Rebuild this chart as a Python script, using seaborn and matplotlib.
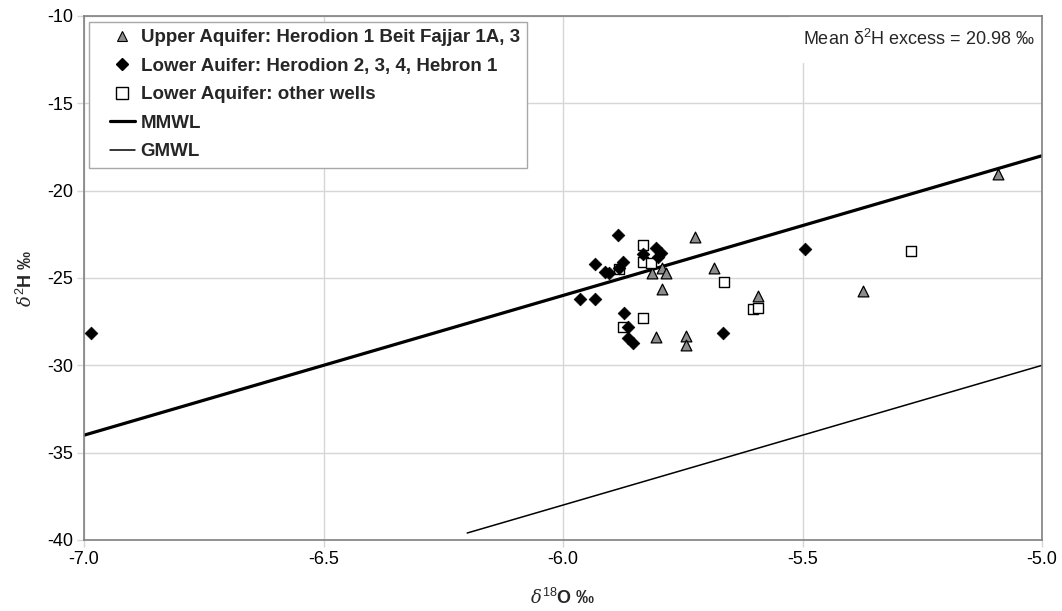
import matplotlib
matplotlib.use("Agg")
import matplotlib.pyplot as plt
from matplotlib.lines import Line2D
from matplotlib.legend_handler import HandlerLine2D
import numpy as np
import pandas as pd
import seaborn as sns

# Upper aquifer wells (Herodion 1, Beit Fajjar 1A, 3)
upper_o18 = [-5.724, -5.685, -5.794, -5.815, -5.784, -5.793, -5.593, -5.805,
             -5.744, -5.744, -5.092, -5.373]
upper_h2 = [-22.63, -24.44, -24.44, -24.73, -24.73, -25.63, -26.03, -28.39,
            -28.30, -28.83, -19.04, -25.72]

# Lower aquifer wells (Herodion 2, 3, 4, Hebron 1)
lower_o18 = [-6.986, -5.885, -5.934, -5.913, -5.904, -5.875, -5.883, -5.833,
             -5.805, -5.795, -5.802, -5.964, -5.934, -5.873, -5.864, -5.864,
             -5.854, -5.665, -5.494]
lower_h2 = [-28.13, -22.54, -24.21, -24.63, -24.73, -24.06, -24.44, -23.64,
            -23.30, -23.58, -23.81, -26.22, -26.22, -27.02, -27.82, -28.45,
            -28.70, -28.13, -23.34]

# Lower aquifer, other wells
other_o18 = [-5.833, -5.833, -5.816, -5.883, -5.664, -5.604, -5.593, -5.833,
             -5.875, -5.273]
other_h2 = [-23.11, -24.06, -24.16, -24.50, -25.21, -26.79, -26.73, -27.30,
            -27.78, -23.43]

# Meteoric water lines: d2H = slope * d18O + excess
mmwl_slope, mmwl_excess, mmwl_range = 8.0, 22.0, [-7.0, -5.0]
gmwl_slope, gmwl_excess, gmwl_range = 8.0, 10.0, [-6.2, -5.0]

labels = ["Upper Aquifer: Herodion 1 Beit Fajjar 1A, 3",
          "Lower Auifer: Herodion 2, 3, 4, Hebron 1",
          "Lower Aquifer: other wells",
          "MMWL",
          "GMWL"]
mean_excess_text = "Mean \u03b4$^2$H excess = 20.98 \u2030"

x_ticks = [-7.0, -6.5, -6.0, -5.5, -5.0]
y_ticks = [-40, -35, -30, -25, -20, -15, -10]

sns.set_theme(style="white")
plt.rcParams["font.family"] = ["Liberation Sans", "DejaVu Sans"]
plt.rcParams["mathtext.fontset"] = "custom"
plt.rcParams["mathtext.rm"] = "Liberation Sans"
plt.rcParams["mathtext.it"] = "DejaVu Serif:italic"

fig = plt.figure(figsize=(10.62, 6.11), dpi=100)
ax = fig.add_axes([84 / 1062, 1 - 540 / 611, (1042 - 84) / 1062, (540 - 16) / 611])

grid_c = "#d6d6d6"
spine_c = "#808080"

mm = pd.DataFrame({"x": mmwl_range})
mm["y"] = mmwl_slope * mm["x"] + mmwl_excess
gm = pd.DataFrame({"x": gmwl_range})
gm["y"] = gmwl_slope * gm["x"] + gmwl_excess

sns.lineplot(data=mm, x="x", y="y", ax=ax, color="black", lw=2.3, zorder=3)
sns.lineplot(data=gm, x="x", y="y", ax=ax, color="black", lw=1.1, zorder=3)

up = pd.DataFrame({"x": upper_o18, "y": upper_h2})
lo = pd.DataFrame({"x": lower_o18, "y": lower_h2})
ot = pd.DataFrame({"x": other_o18, "y": other_h2})

sns.scatterplot(data=up, x="x", y="y", ax=ax, marker="^", s=60,
                color="#8c8c8c", edgecolor="black", linewidth=0.9, zorder=4)
sns.scatterplot(data=ot, x="x", y="y", ax=ax, marker="s", s=62,
                color="white", edgecolor="black", linewidth=1.0, zorder=5)
sns.scatterplot(data=lo, x="x", y="y", ax=ax, marker="D", s=42,
                color="black", edgecolor="black", linewidth=0.5, zorder=6)

ax.set_xlim(-7.0, -5.0)
ax.set_ylim(-40, -10)
ax.set_xticks(x_ticks)
ax.set_xticklabels([f"{v:.1f}" for v in x_ticks])
ax.set_yticks(y_ticks)
ax.set_yticklabels([str(v) for v in y_ticks])
ax.grid(True, color=grid_c, lw=1.0)
ax.set_axisbelow(True)
for sp in ax.spines.values():
    sp.set_color(spine_c)
    sp.set_linewidth(1.2)
    sp.set_zorder(12)
ax.tick_params(axis="both", labelsize=13, colors=grid_c, labelcolor="black",
               length=5, width=1, direction="out", pad=3,
               bottom=True, left=True)

ax.set_xlabel("$\\mathit{\\delta}^{18}$O \u2030", fontsize=13, fontweight="bold",
              labelpad=14)
ax.set_ylabel("$\\mathit{\\delta}^{2}$H \u2030", fontsize=13, fontweight="bold",
              labelpad=8)

handles = [
    Line2D([], [], ls="none", marker="^", ms=7, mfc="#8c8c8c", mec="black", mew=0.8),
    Line2D([], [], ls="none", marker="D", ms=6, mfc="black", mec="black"),
    Line2D([], [], ls="none", marker="s", ms=8, mfc="white", mec="black", mew=1.0),
    Line2D([], [], color="black", lw=2.3),
    Line2D([], [], color="black", lw=1.1),
]
leg = ax.legend(handles, labels, loc="upper left", bbox_to_anchor=(0.003, 0.993),
                frameon=True, fancybox=False, framealpha=1, edgecolor="#a8a8a8",
                borderpad=0.4, labelspacing=0.61, handlelength=2.05,
                handletextpad=0.32, prop={"weight": "bold", "size": 13.5},
                borderaxespad=0.1,
                handler_map={Line2D: HandlerLine2D(xpad=0.72)})
leg.get_frame().set_linewidth(1.0)
leg.set_zorder(10)

ax.text(0.993, 1 - 23 / 524, mean_excess_text, transform=ax.transAxes,
        ha="right", va="center", fontsize=13, zorder=10,
        bbox=dict(facecolor="white", edgecolor="none", pad=10))

fig.savefig("out.png", dpi=100)
